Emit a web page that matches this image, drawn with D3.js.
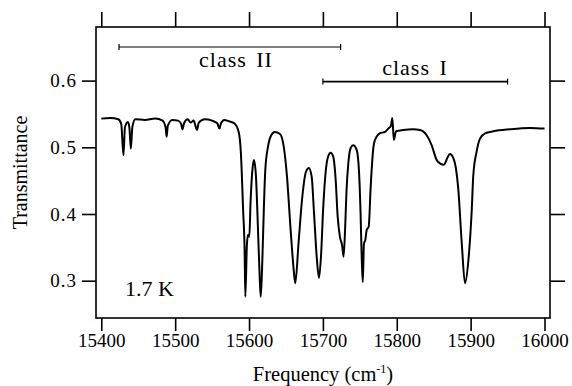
<!DOCTYPE html>
<html>
<head>
<meta charset="utf-8">
<script src="https://cdn.jsdelivr.net/npm/d3@7"></script>
<style>
  body { margin: 0; background: #fff; }
  text { font-family: "Liberation Serif", "Times New Roman", serif; fill: #000; }
</style>
</head>
<body>
<div id="chart"></div>
<script>
var width = 572, height = 386;

// frequency (cm-1)
var freq = [15400, 15412, 15423, 15427, 15430, 15432, 15436, 15438, 15440, 15442, 15446, 15459,
  15473, 15483, 15487, 15488.5, 15490, 15496, 15504, 15508, 15510, 15512, 15517, 15521, 15525,
  15529.5, 15532, 15540, 15550, 15557, 15560, 15562, 15566.5, 15573, 15580, 15586, 15589, 15592,
  15594, 15595, 15597, 15598.6, 15600.4, 15602, 15605, 15606.7, 15609.4, 15612, 15614.4, 15615.8,
  15617.6, 15620, 15622, 15625.7, 15630, 15634.7, 15642, 15647, 15651.4, 15656, 15660.5, 15662.6,
  15667, 15671.7, 15677, 15681, 15684.8, 15688, 15691.6, 15694.7, 15697.4, 15700.5, 15704, 15707.3,
  15710.5, 15714, 15717.3, 15720, 15723, 15726, 15728, 15730, 15732, 15734.4, 15737.6, 15741,
  15745.7, 15749, 15751, 15752.5, 15754, 15755.6, 15757.4, 15759.3, 15762, 15764.7, 15768, 15770.5,
  15777, 15784, 15788.5, 15792, 15794, 15796, 15799, 15808.8, 15822.4, 15831.5, 15840.5, 15847.3,
  15854, 15858.5, 15864, 15868.4, 15872, 15876.5, 15880, 15883, 15888, 15892.4, 15897, 15901.5,
  15903.6, 15908, 15912.7, 15919.5, 15930.7, 15953, 15980, 15998, 16000];

var trans = [0.543, 0.544, 0.542, 0.535, 0.488, 0.530, 0.538, 0.530, 0.498, 0.530, 0.542, 0.541,
  0.543, 0.540, 0.530, 0.516, 0.532, 0.541, 0.540, 0.535, 0.527, 0.536, 0.542, 0.537, 0.540,
  0.526, 0.537, 0.542, 0.540, 0.536, 0.528, 0.536, 0.541, 0.539, 0.536, 0.523, 0.491, 0.406,
  0.346, 0.276, 0.351, 0.369, 0.366, 0.416, 0.471, 0.481, 0.456, 0.381, 0.306, 0.276,
  0.316, 0.406, 0.466, 0.501, 0.518, 0.523, 0.520, 0.501, 0.456, 0.381, 0.316, 0.296,
  0.356, 0.421, 0.463, 0.469, 0.456, 0.401, 0.336, 0.304, 0.336, 0.411, 0.466, 0.487,
  0.492, 0.486, 0.451, 0.396, 0.366, 0.353, 0.336, 0.376, 0.436, 0.476, 0.499, 0.503,
  0.496, 0.461, 0.401, 0.336, 0.298, 0.356, 0.361, 0.376, 0.381, 0.441, 0.496, 0.511,
  0.521, 0.523, 0.528, 0.532, 0.544, 0.511, 0.524, 0.526, 0.527, 0.526, 0.518, 0.503,
  0.481, 0.476, 0.474, 0.484, 0.490, 0.484, 0.469, 0.441, 0.356, 0.296, 0.331, 0.406,
  0.458, 0.493, 0.513, 0.521, 0.524, 0.527, 0.529, 0.528, 0.528];

var xTicks = [15400, 15500, 15600, 15700, 15800, 15900, 16000];
var yTicks = [0.3, 0.4, 0.5, 0.6];

// bracket annotations
var classNames = ["class II", "class I"];
var classStart = [15424, 15700];
var classEnd = [15724, 15950];
var classLevel = [0.6504, 0.5985];
var tempLabel = "1.7 K";

var frame = { left: 96, right: 550, top: 27, bottom: 318 };
var tickLen = 13;

var svg = d3.select("#chart").append("svg")
    .attr("width", width)
    .attr("height", height);

var x = d3.scaleLinear().domain([15400, 16000]).range([101.3, 544.5]);
var y = d3.scaleLinear().domain([0.3, 0.6]).range([280.7, 80.6]);

// frame
svg.append("rect")
    .attr("x", frame.left)
    .attr("y", frame.top)
    .attr("width", frame.right - frame.left)
    .attr("height", frame.bottom - frame.top)
    .attr("fill", "none")
    .attr("stroke", "#000")
    .attr("stroke-width", 1.6);

// axes, ticks pointing outward
var xBottom = svg.append("g")
    .attr("transform", "translate(0," + frame.bottom + ")")
    .call(d3.axisBottom(x).tickValues(xTicks).tickFormat(d3.format("d")).tickSize(tickLen).tickPadding(3));
var xTop = svg.append("g")
    .attr("transform", "translate(0," + frame.top + ")")
    .call(d3.axisTop(x).tickValues(xTicks).tickFormat("").tickSize(tickLen + 2));
var yLeft = svg.append("g")
    .attr("transform", "translate(" + frame.left + ",0)")
    .call(d3.axisLeft(y).tickValues(yTicks).tickFormat(d3.format(".1f")).tickSize(tickLen + 1).tickPadding(5));
var yRight = svg.append("g")
    .attr("transform", "translate(" + frame.right + ",0)")
    .call(d3.axisRight(y).tickValues(yTicks).tickFormat("").tickSize(tickLen + 2));

[xBottom, xTop, yLeft, yRight].forEach(function (g) {
    g.select(".domain").remove();
    g.selectAll("line").attr("stroke", "#000").attr("stroke-width", 1.6);
    g.selectAll("text")
        .style("font-family", '"Liberation Serif", "Times New Roman", serif')
        .style("font-size", "19px")
        .attr("fill", "#000");
});
yLeft.selectAll("text").style("letter-spacing", "1px");

// axis titles
var xTitle = svg.append("text")
    .attr("x", (frame.left + frame.right) / 2)
    .attr("y", 381)
    .attr("text-anchor", "middle")
    .style("font-size", "20.5px");
xTitle.append("tspan").text("Frequency (cm");
xTitle.append("tspan").attr("dy", -8).style("font-size", "12px").text("-1");
xTitle.append("tspan").attr("dy", 8).text(")");

svg.append("text")
    .attr("transform", "translate(27," + (frame.top + frame.bottom) / 2 + ") rotate(-90)")
    .attr("text-anchor", "middle")
    .style("font-size", "20px")
    .text("Transmittance");

// spectrum
var points = freq.map(function (f, i) { return [f, trans[i]]; });
var line = d3.line()
    .x(function (d) { return x(d[0]); })
    .y(function (d) { return y(d[1]); })
    .curve(d3.curveMonotoneX);

svg.append("path")
    .datum(points)
    .attr("d", line)
    .attr("fill", "none")
    .attr("stroke", "#000")
    .attr("stroke-width", 2)
    .attr("stroke-linejoin", "round");

// class brackets
classNames.forEach(function (name, i) {
    var g = svg.append("g");
    var yy = y(classLevel[i]);
    g.append("line")
        .attr("x1", x(classStart[i])).attr("x2", x(classEnd[i]))
        .attr("y1", yy).attr("y2", yy)
        .attr("stroke", "#000").attr("stroke-width", i == 0 ? 1.1 : 1.6);
    [classStart[i], classEnd[i]].forEach(function (f) {
        g.append("line")
            .attr("x1", x(f)).attr("x2", x(f))
            .attr("y1", yy - 3).attr("y2", yy + 3)
            .attr("stroke", "#000").attr("stroke-width", 1.2);
    });
});

svg.append("text")
    .attr("x", 236).attr("y", 67)
    .attr("text-anchor", "middle")
    .style("font-size", "22px")
    .style("letter-spacing", "1px")
    .style("word-spacing", "3px")
    .text(classNames[0]);

svg.append("text")
    .attr("x", 415).attr("y", 75)
    .attr("text-anchor", "middle")
    .style("font-size", "22px")
    .style("letter-spacing", "1px")
    .style("word-spacing", "3px")
    .text(classNames[1]);

svg.append("text")
    .attr("x", 125).attr("y", 296)
    .style("font-size", "22px")
    .text(tempLabel);
</script>
</body>
</html>
